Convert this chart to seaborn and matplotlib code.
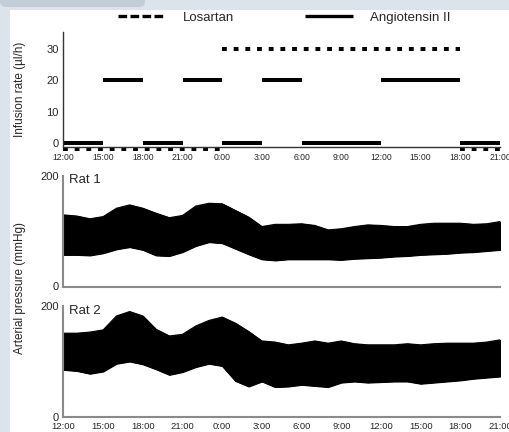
import numpy as np
import pandas as pd
import seaborn as sns
from matplotlib import pyplot as plt
from matplotlib.lines import Line2D
from matplotlib.patches import Rectangle, FancyBboxPatch

# infusion schedule, hours after 12:00 on day 1
ang_start = [0, 3, 6, 9, 12, 15, 18, 24, 30]
ang_end = [3, 6, 9, 12, 15, 18, 24, 30, 33]
ang_rate = [0, 20, 0, 20, 0, 20, 0, 20, 0]

los_start = [0, 12, 30]
los_end = [12, 30, 33]
los_rate = [0, 30, 0]

tick_hours = [0, 3, 6, 9, 12, 15, 18, 21, 24, 27, 30, 33]
tick_labels = ['12:00', '15:00', '18:00', '21:00', '0:00', '3:00', '6:00',
               '9:00', '12:00', '15:00', '18:00', '21:00']

# arterial pressure envelope (mmHg)
bp_hours = list(range(34))
rat1_upper = [129, 127, 122, 126, 141, 147, 141, 132, 124, 128, 145, 150, 149, 137, 125, 108, 112,
              112, 113, 110, 102, 104, 108, 111, 110, 108, 108, 112, 114, 114, 114, 112, 113, 117]
rat1_lower = [57, 57, 56, 60, 67, 71, 66, 56, 55, 62, 73, 80, 78, 68, 58, 49, 47,
              49, 49, 49, 49, 48, 50, 51, 52, 54, 55, 57, 58, 59, 61, 62, 64, 66]
rat2_upper = [151, 151, 153, 157, 182, 190, 182, 158, 146, 149, 164, 174, 180, 169, 154, 137, 135,
              130, 133, 137, 133, 137, 132, 130, 130, 130, 132, 130, 132, 133, 133, 133, 135, 139]
rat2_lower = [85, 83, 78, 82, 96, 100, 95, 86, 76, 81, 90, 96, 92, 65, 55, 64, 54,
              55, 58, 56, 54, 62, 64, 62, 63, 64, 64, 60, 62, 64, 66, 69, 71, 73]


def seg_frame(starts, ends, rates):
    rows = []
    for i, (s, e, r) in enumerate(zip(starts, ends, rates)):
        rows.append((i, s, r))
        rows.append((i, e, r))
    return pd.DataFrame(rows, columns=['seg', 'hour', 'rate'])


sns.set_style("white")
plt.rcParams['font.family'] = ['Liberation Sans', 'DejaVu Sans']

W, H = 510, 432
fig = plt.figure(figsize=(W / 100, H / 100), dpi=100, facecolor='#dde3ea')
fig.patches.append(Rectangle((10 / W, 0), 1, 422 / H, transform=fig.transFigure,
                             facecolor='white', edgecolor='none', zorder=-2))
fig.patches.append(FancyBboxPatch((0, 425 / H), 145 / W, 0.05, transform=fig.transFigure,
                                  boxstyle='round,pad=0,rounding_size=0.012',
                                  facecolor='#c3cdd8', edgecolor='none', zorder=-1))

left = 63.5 / W
width = (500 - 63.5) / W

# ---- infusion panel ----
ax0 = fig.add_axes([left, 1 - 146.7 / H, width, (146.7 - 32) / H])
ax0.set_facecolor('none')

ang_df = seg_frame(ang_start, ang_end, ang_rate)
los_df = seg_frame(los_start, los_end, los_rate)
# zero-rate losartan is drawn just under the axis
los_df['y'] = los_df['rate'].where(los_df['rate'] > 0, -1.9)

sns.lineplot(data=ang_df, x='hour', y='rate', units='seg', estimator=None,
             color='black', lw=2.9, ax=ax0, legend=False)
n = len(ax0.lines)
sns.lineplot(data=los_df, x='hour', y='y', units='seg', estimator=None,
             color='black', lw=2.9, ax=ax0, legend=False)
for ln in ax0.lines[:n]:
    ln.set_solid_capstyle('butt')
for ln in ax0.lines[n:]:
    ln.set_dashes((1.2, 1.7))
    ln.set_dash_capstyle('butt')
    ln.set_clip_on(False)

ax0.set_xlim(0, 33)
ax0.set_ylim(-1.1, 35.4)
ax0.set_yticks([0, 10, 20, 30])
ax0.set_xticks(tick_hours)
ax0.set_xticklabels(tick_labels)
ax0.set_xlabel('')
ax0.set_ylabel('')
ax0.tick_params(axis='x', length=0, pad=4.5, labelsize=6.2)
ax0.tick_params(axis='y', length=0, pad=3.6, labelsize=8)
sns.despine(ax=ax0)
for s in ['left', 'bottom']:
    ax0.spines[s].set_color('#333333')
    ax0.spines[s].set_linewidth(1.0)

fig.text(20 / W, 1 - 89.5 / H, 'Infusion rate (\u00b5l/h)', rotation=90,
         ha='center', va='center', fontsize=8.5)

handles = [Line2D([], [], color='black', lw=2.4, dashes=(2.6, 1.0), dash_capstyle='butt'),
           Line2D([], [], color='black', lw=2.4, solid_capstyle='butt')]
fig.legend(handles, ['Losartan', 'Angiotensin II'], loc='center', ncol=2,
           bbox_to_anchor=(284 / W, 1 - 18 / H), frameon=False, fontsize=9.5,
           handlelength=3.6, handletextpad=1.3, columnspacing=5.4)

# ---- pressure panels ----
rats = [('Rat 1', rat1_lower, rat1_upper, 286.5),
        ('Rat 2', rat2_lower, rat2_upper, 417)]
for name, low, up, ybot in rats:
    ax = fig.add_axes([left, 1 - ybot / H, width, 111 / H])
    ax.set_facecolor('none')
    ax.fill_between(bp_hours, low, up, color='black', lw=0.8)
    sns.lineplot(x=bp_hours, y=up, color='black', lw=0.8, ax=ax)
    sns.lineplot(x=bp_hours, y=low, color='black', lw=0.8, ax=ax)
    ax.set_xlim(0, 33)
    ax.set_ylim(0, 200)
    ax.set_yticks([0, 200])
    ax.set_xticks(tick_hours)
    if name == 'Rat 2':
        ax.set_xticklabels(tick_labels)
    else:
        ax.set_xticklabels([])
    ax.tick_params(axis='x', length=0, pad=3.6, labelsize=6.8)
    ax.tick_params(axis='y', length=0, pad=3.6, labelsize=8)
    sns.despine(ax=ax)
    for s in ['left', 'bottom']:
        ax.spines[s].set_color('#8a8a8a')
        ax.spines[s].set_linewidth(1.5)
    ax.text(0.012, 0.955, name, transform=ax.transAxes, ha='left', va='center',
            fontsize=9.5)

fig.text(20 / W, 1 - 288 / H, 'Arterial pressure (mmHg)', rotation=90,
         ha='center', va='center', fontsize=8.5)

fig.savefig('out.png', dpi=100, facecolor=fig.get_facecolor())
